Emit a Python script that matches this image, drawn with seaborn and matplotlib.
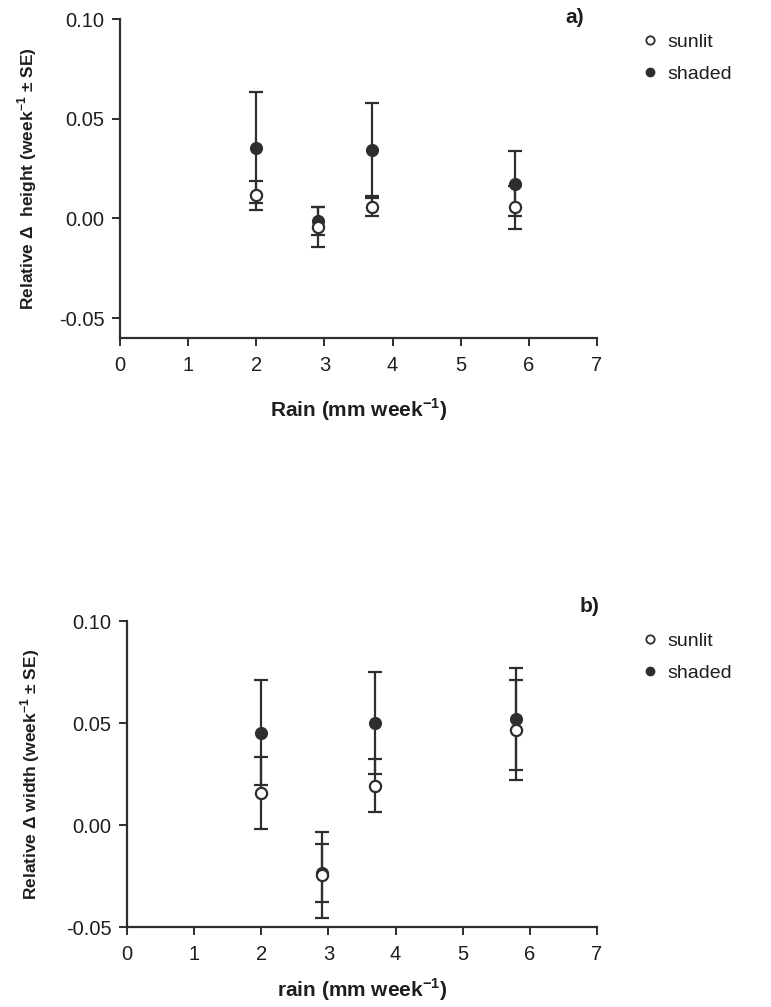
import numpy as np
import pandas as pd
import matplotlib
matplotlib.use("Agg")
import matplotlib.pyplot as plt
import seaborn as sns
from matplotlib.lines import Line2D
from matplotlib.ticker import FormatStrFormatter

sns.set_style("ticks")
plt.rcParams['font.family'] = ['Liberation Sans', 'DejaVu Sans']
plt.rcParams['axes.unicode_minus'] = False
plt.rcParams['mathtext.fontset'] = 'custom'
plt.rcParams['mathtext.rm'] = 'Liberation Sans'
plt.rcParams['mathtext.bf'] = 'Liberation Sans:bold'

rain = [2.0, 2.9, 3.7, 5.8]

# panel a) relative change in height
height_sunlit = [0.0115, -0.0045, 0.0055, 0.0055]
height_sunlit_se = [0.0075, 0.010, 0.0045, 0.011]
height_shaded = [0.0355, -0.0015, 0.0345, 0.0175]
height_shaded_se = [0.028, 0.007, 0.0235, 0.0165]

# panel b) relative change in width
width_sunlit = [0.0158, -0.0245, 0.0192, 0.0468]
width_sunlit_se = [0.0175, 0.021, 0.013, 0.0245]
width_shaded = [0.0453, -0.0235, 0.0498, 0.052]
width_shaded_se = [0.0257, 0.014, 0.025, 0.025]

xticks = [0, 1, 2, 3, 4, 5, 6, 7]
yticks = [-0.05, 0.00, 0.05, 0.10]

DARK = "#2e2e2e"
TXT = "#1e1e1e"

fig = plt.figure(figsize=(7.71, 10.07), dpi=100)
ax1 = fig.add_axes([0.1556, 0.6643, 0.6187, 0.3168])
ax2 = fig.add_axes([0.1647, 0.0794, 0.6096, 0.3039])


def panel(ax, sun, sun_se, sha, sha_se, ylim, xlabel, ylabel, tag, tagpos,
          ylabelx, legy, xlabelpad):
    df = pd.DataFrame({"rain": rain * 2,
                       "val": sha + sun,
                       "se": sha_se + sun_se,
                       "group": ["shaded"] * 4 + ["sunlit"] * 4})
    for g in ["shaded", "sunlit"]:
        d = df[df.group == g]
        ax.errorbar(d["rain"], d["val"], yerr=d["se"], fmt="none",
                    ecolor=DARK, elinewidth=1.6, capsize=5, capthick=1.6, zorder=2)
    sns.scatterplot(data=df[df.group == "shaded"], x="rain", y="val", ax=ax,
                    color=DARK, edgecolor=DARK, s=65, linewidth=1.4, zorder=3,
                    legend=False)
    sns.scatterplot(data=df[df.group == "sunlit"], x="rain", y="val", ax=ax,
                    color="white", edgecolor=DARK, s=65, linewidth=1.6, zorder=4,
                    legend=False)
    ax.set_xlim(0, 7)
    ax.set_ylim(*ylim)
    ax.set_xticks(xticks)
    ax.set_yticks(yticks)
    ax.yaxis.set_major_formatter(FormatStrFormatter("%.2f"))
    sns.despine(ax=ax)
    for s in ["left", "bottom"]:
        ax.spines[s].set_color(DARK)
        ax.spines[s].set_linewidth(1.6)
    ax.tick_params(colors=DARK, labelcolor=TXT, labelsize=14.5,
                   length=6, width=1.4, direction="out", pad=5)
    ax.tick_params(axis="x", pad=7)
    ax.set_xlabel(xlabel, fontsize=15, fontweight="bold", color=TXT,
                  labelpad=xlabelpad)
    ax.set_ylabel(ylabel, fontsize=12.5, fontweight="bold", color=TXT)
    ax.yaxis.set_label_coords(ylabelx, 0.5)
    ax.text(tagpos[0], tagpos[1], tag, transform=ax.transAxes, fontsize=15,
            fontweight="bold", ha="left", va="top", color=TXT)
    handles = [Line2D([], [], ls="none", marker="o", markersize=6,
                      markerfacecolor="white", markeredgecolor=DARK,
                      markeredgewidth=1.3, label="sunlit"),
               Line2D([], [], ls="none", marker="o", markersize=6,
                      markerfacecolor=DARK, markeredgecolor=DARK, label="shaded")]
    ax.legend(handles=handles, loc="upper left", bbox_to_anchor=(1.05, legy),
              frameon=False, fontsize=14, handletextpad=0.3,
              labelspacing=0.75, handlelength=1.2, labelcolor=TXT)


panel(ax1, height_sunlit, height_sunlit_se, height_shaded, height_shaded_se,
      (-0.06, 0.10), "Rain (mm week$^{\\mathregular{-1}}$)",
      "Relative $\\mathregular{\\Delta}$  height (week$^{\\mathregular{-1}}$ \u00b1 SE)",
      "a)", (0.933, 1.035), -0.17, 1.01, 15)
panel(ax2, width_sunlit, width_sunlit_se, width_shaded, width_shaded_se,
      (-0.05, 0.10), "rain (mm week$^{\\mathregular{-1}}$)",
      "Relative $\\mathregular{\\Delta}$ width (week$^{\\mathregular{-1}}$ \u00b1 SE)",
      "b)", (0.962, 1.078), -0.18, 1.02, 9)

fig.savefig("out.png", dpi=100, facecolor="white")
